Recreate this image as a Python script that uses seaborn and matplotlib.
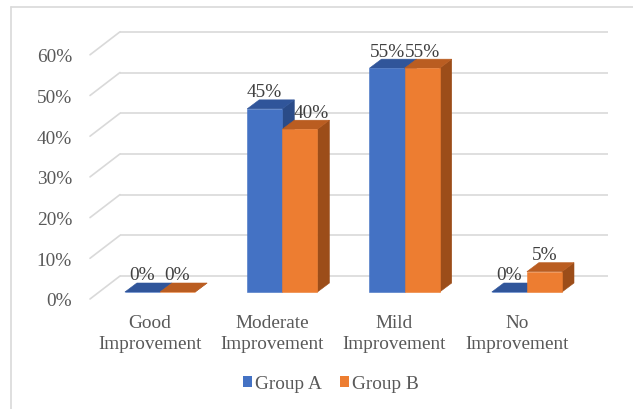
import matplotlib
matplotlib.use("Agg")
import matplotlib.pyplot as plt
import pandas as pd
import seaborn as sns
from matplotlib.patches import Polygon, Patch
from matplotlib.lines import Line2D

# ---- data -------------------------------------------------------------
categories = ["Good\nImprovement", "Moderate\nImprovement",
              "Mild\nImprovement", "No\nImprovement"]
groups = ["Group A", "Group B"]
group_a = [0.00, 0.45, 0.55, 0.00]
group_b = [0.00, 0.40, 0.55, 0.05]
tick_values = [0.0, 0.1, 0.2, 0.3, 0.4, 0.5, 0.6]
tick_labels = ["0%", "10%", "20%", "30%", "40%", "50%", "60%"]

df = pd.DataFrame({
    "category": categories * 2,
    "value": group_a + group_b,
    "group": [groups[0]] * len(categories) + [groups[1]] * len(categories),
})

# ---- style ------------------------------------------------------------
sns.set_theme(style="white")
plt.rcParams["font.family"] = ["Liberation Serif", "DejaVu Serif"]
FS = 13.9
TXT = "#595959"
LBL = "#404040"
GRID = "#D9D9D9"

face = {"Group A": "#4472C4", "Group B": "#ED7D31"}
top = {"Group A": "#30559A", "Group B": "#BA5D21"}
side = {"Group A": "#2A4B88", "Group B": "#9C4D19"}

W, H = 633, 410
fig = plt.figure(figsize=(W / 100, H / 100), dpi=100)
ax = fig.add_axes([0, 0, 1, 1])

# scale: pixels per category unit / per unit of value
XU, YU = 122.3, 407.0
X0, Y0 = 160, 293          # pixel of first category centre / bar base


def dx(px):
    return px / XU


def dy(px):
    return px / YU


# depth of the floor (front plane -> back wall) and of a bar
FLOOR_X, FLOOR_Y = 30, 23
BAR_X, BAR_Y = 12, 9
FRONT_GAP_Y = 7            # front plane sits this far below the bar faces

sns.barplot(data=df, x="category", y="value", hue="group",
            order=categories, hue_order=groups, palette=face,
            saturation=1, width=0.574, errorbar=None, linewidth=0,
            legend=False, ax=ax)

ax.set_xlim(-X0 / XU, (W - X0) / XU)
ax.set_ylim((Y0 - H) / YU, Y0 / YU)
ax.axis("off")

# ---- back wall gridlines with the perspective side lines --------------
back_left = dx(120 - X0)
back_right = dx(608 - X0)
for v, lab in zip(tick_values, tick_labels):
    yb = v + dy(FLOOR_Y - FRONT_GAP_Y)
    yf = v - dy(FRONT_GAP_Y)
    ax.plot([back_left, back_right], [yb, yb], color=GRID, lw=1.2,
            zorder=1, solid_capstyle="butt")
    ax.plot([back_left - dx(FLOOR_X), back_left], [yf, yb], color=GRID,
            lw=1.2, zorder=1)
    ax.text(dx(72 - X0), yf - dy(2), lab, ha="right", va="center",
            fontsize=FS, color=TXT)

# ---- 3D faces for every bar -------------------------------------------
label_nudge = {("Group B", 1): 11}
bars = list(ax.patches)
for bar in bars:
    fc = bar.get_facecolor()
    g = "Group A" if abs(fc[0] - 0x44 / 255) < 0.05 else "Group B"
    x0, w, h = bar.get_x(), bar.get_width(), bar.get_height()
    bx, by = dx(BAR_X), dy(BAR_Y)
    base_z = 3.0 if g == "Group A" else 3.2
    bar.set_zorder(base_z)
    bar.set_edgecolor(face[g])
    bar.set_linewidth(0.4)
    dz = -0.05 if g == "Group A" else -0.1
    ax.add_patch(Polygon([(x0 + w, 0), (x0 + w + bx, by),
                          (x0 + w + bx, h + by), (x0 + w, h)],
                         closed=True, facecolor=side[g], edgecolor=side[g],
                         lw=0.4, zorder=base_z + dz))
    ax.add_patch(Polygon([(x0, h), (x0 + w, h), (x0 + w + bx, h + by),
                          (x0 + bx, h + by)],
                         closed=True, facecolor=top[g], edgecolor=top[g],
                         lw=0.4, zorder=base_z + dz))
    ci = int(round(x0 + w / 2 + (0.287 / 2 if g == "Group A" else -0.287 / 2)))
    nudge = label_nudge.get((g, ci), 0)
    ax.text(x0 + w / 2 + dx(nudge), h + dy(17), f"{h * 100:.0f}%",
            ha="center", va="center", fontsize=FS, color=LBL, zorder=5)

# ---- category labels ----------------------------------------------------
for i, cat in enumerate(categories):
    ax.text(i - dx(10), dy(Y0 - 334), cat, ha="center", va="center",
            fontsize=FS, color=TXT, linespacing=1.32)

# ---- legend ---------------------------------------------------------------
handles = [Patch(facecolor=face[g], edgecolor="none") for g in groups]
ax.legend(handles, groups, loc="center", bbox_to_anchor=(331 / W, 1 - 385 / H),
          ncol=2, frameon=False, fontsize=FS, handlelength=0.48,
          handleheight=0.48, handletextpad=0.15, columnspacing=0.95,
          labelcolor=TXT)

# ---- chart area border ------------------------------------------------------
fig.add_artist(Line2D([10.5 / W, 10.5 / W], [0, 1 - 8 / H], color=GRID, lw=1.2))
fig.add_artist(Line2D([10.5 / W, 1], [1 - 8 / H, 1 - 8 / H], color=GRID, lw=1.2))

fig.savefig("out.png", dpi=100, facecolor="white")
